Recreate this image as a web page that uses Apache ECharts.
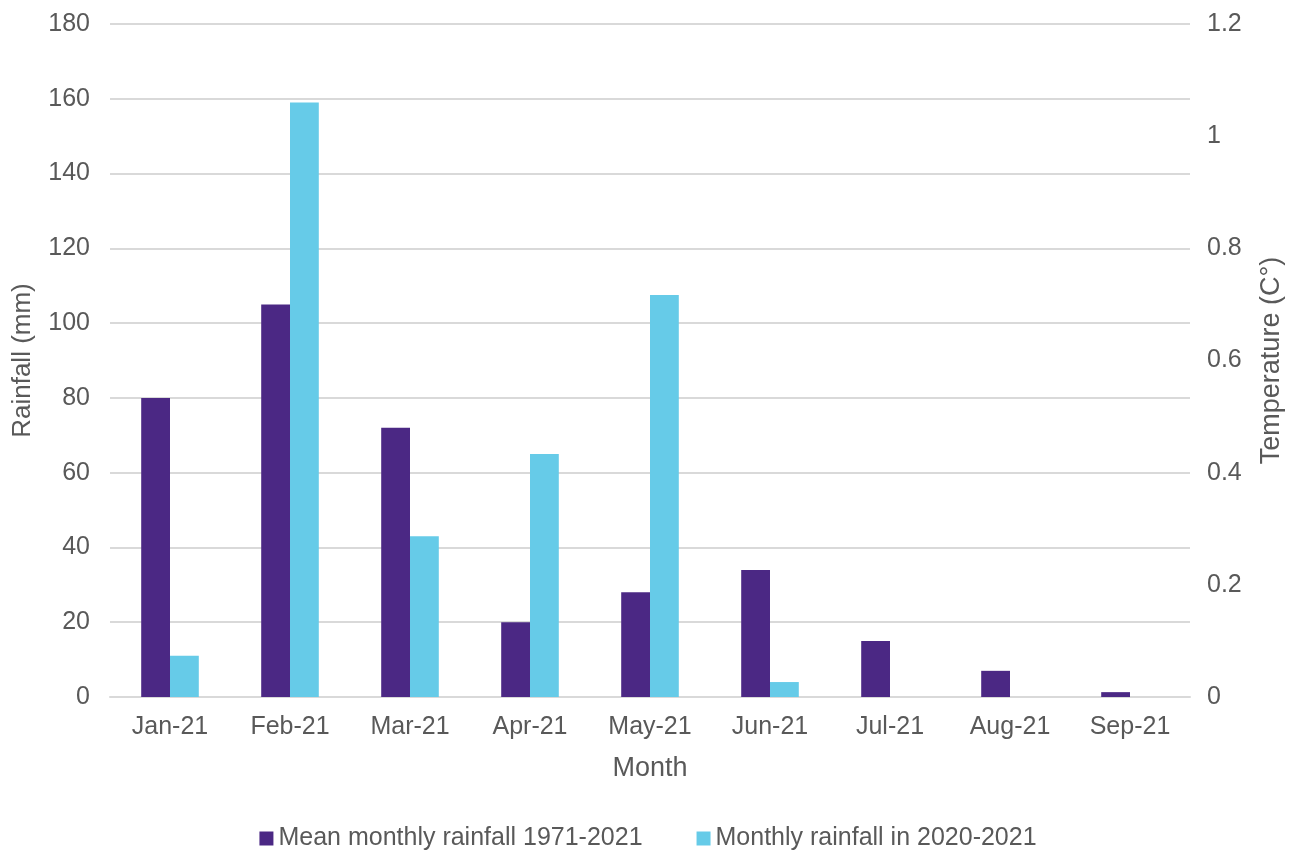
<!DOCTYPE html>
<html>
<head>
<meta charset="utf-8">
<script src="https://cdn.jsdelivr.net/npm/echarts@6/dist/echarts.min.js"></script>
<style>html,body{margin:0;padding:0;background:#fff}#c{width:1296px;height:850px}</style>
</head>
<body>
<div id="c"></div>
<script>
const months = ['Jan-21','Feb-21','Mar-21','Apr-21','May-21','Jun-21','Jul-21','Aug-21','Sep-21'];
const meanRainfall = [80, 105, 72, 20, 28, 34, 15, 7, 1.3];
const rainfall2021 = [11, 159, 43, 65, 107.5, 4, 0, 0, 0];
const seriesNames = ['Mean monthly rainfall 1971-2021', 'Monthly rainfall in 2020-2021'];

const font = 'Liberation Sans, Arial, sans-serif';
const txt = '#595959';
const chart = echarts.init(document.getElementById('c'));
chart.setOption({
  animation: false,
  textStyle: { fontFamily: font },
  grid: { left: 110, right: 106, top: 24, bottom: 153 },
  legend: {
    top: 821, left: 'center', itemWidth: 14, itemHeight: 14, itemGap: 54,
    icon: 'rect',
    textStyle: { fontFamily: font, fontSize: 25, color: txt },
    data: seriesNames
  },
  xAxis: {
    type: 'category', data: months,
    name: 'Month', nameLocation: 'middle', nameGap: 58,
    nameTextStyle: { fontFamily: font, fontSize: 27, color: txt },
    axisLine: { lineStyle: { color: '#d9d9d9', width: 2 } },
    axisTick: { show: false },
    axisLabel: { fontFamily: font, fontSize: 25, color: txt, margin: 18 }
  },
  yAxis: [{
    type: 'value', min: 0, max: 180, interval: 20,
    name: 'Rainfall (mm)', nameLocation: 'middle', nameGap: 74, nameRotate: 90,
    nameTextStyle: { fontFamily: font, fontSize: 26, color: txt },
    axisLabel: { fontFamily: font, fontSize: 25, color: txt, margin: 20 },
    axisLine: { show: false }, axisTick: { show: false },
    splitLine: { lineStyle: { color: '#d9d9d9', width: 2 } }
  }, {
    type: 'value', min: 0, max: 1.2, interval: 0.2,
    name: 'Temperature (C°)', nameLocation: 'middle', nameGap: 68, nameRotate: 90,
    nameTextStyle: { fontFamily: font, fontSize: 27, color: txt },
    axisLabel: { fontFamily: font, fontSize: 25, color: txt, margin: 17,
      formatter: v => String(+v.toFixed(1)) },
    axisLine: { show: false }, axisTick: { show: false },
    splitLine: { show: false }
  }],
  series: [{
    name: seriesNames[0], type: 'bar', data: meanRainfall,
    barGap: '0%', barCategoryGap: '52%',
    itemStyle: { color: '#4b2884' }
  }, {
    name: seriesNames[1], type: 'bar', data: rainfall2021,
    itemStyle: { color: '#66cbe8' }
  }]
});
</script>
</body>
</html>
